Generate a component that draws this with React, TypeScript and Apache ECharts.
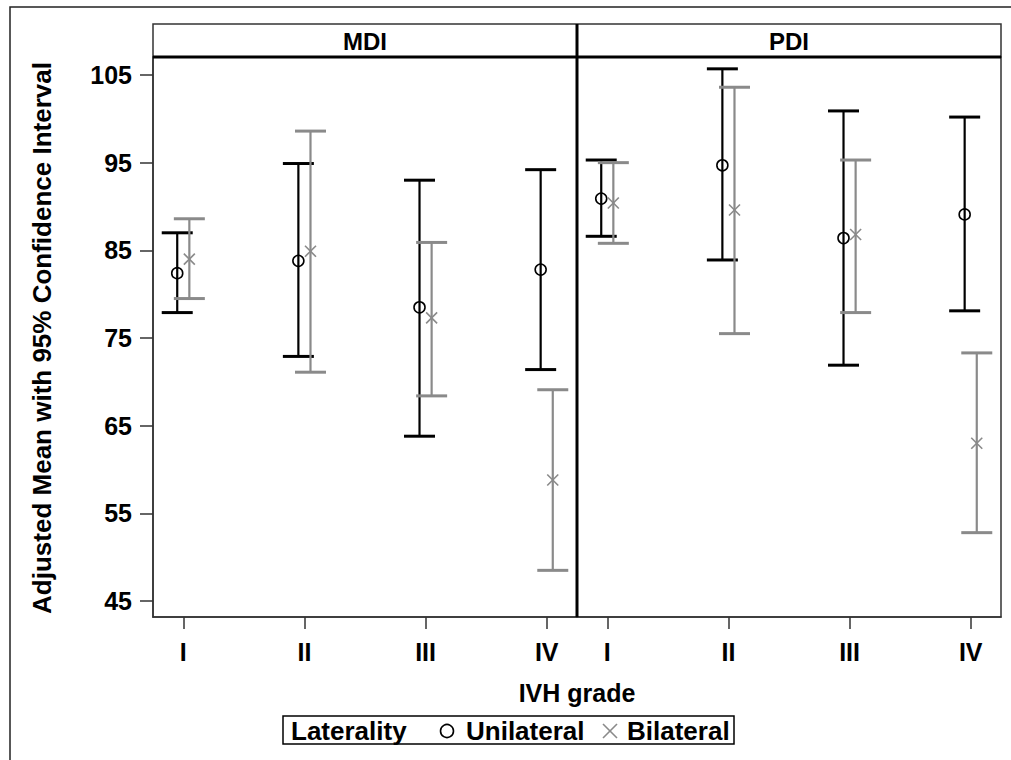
import React, { useEffect, useRef } from "react";
import * as echarts from "echarts";

const grades = ["I", "II", "III", "IV"];
const gradePos = [1, 2, 3, 4];
const yTicks = [45, 55, 65, 75, 85, 95, 105];
const panels = ["MDI", "PDI"];

const mdiUniMean = [82.4, 83.8, 78.5, 82.8];
const mdiUniLower = [77.9, 72.9, 63.8, 71.4];
const mdiUniUpper = [87.0, 94.9, 93.0, 94.2];
const mdiBiMean = [84.0, 84.9, 77.3, 58.8];
const mdiBiLower = [79.5, 71.1, 68.4, 48.5];
const mdiBiUpper = [88.6, 98.6, 85.9, 69.1];

const pdiUniMean = [90.9, 94.7, 86.4, 89.1];
const pdiUniLower = [86.6, 83.9, 71.9, 78.1];
const pdiUniUpper = [95.3, 105.7, 100.9, 100.2];
const pdiBiMean = [90.4, 89.6, 86.8, 63.0];
const pdiBiLower = [85.8, 75.5, 77.9, 52.8];
const pdiBiUpper = [95.0, 103.6, 95.3, 73.3];

const FONT = "'Liberation Sans', Arial, sans-serif";
const BLACK = "#000000";
const GRAY = "#8a8a8a";

function buildData(mean: number[], lower: number[], upper: number[]) {
  return gradePos.map((p, i) => [p, lower[i], upper[i], mean[i]]);
}

function makeSeries(
  gridIndex: number,
  data: number[][],
  color: string,
  offset: number,
  marker: "circle" | "x"
) {
  return {
    type: "custom",
    xAxisIndex: gridIndex,
    yAxisIndex: gridIndex,
    data,
    encode: { x: 0, y: [1, 2, 3] },
    clip: false,
    renderItem: (params: any, api: any) => {
      const x = api.value(0) + offset;
      const lo = api.coord([x, api.value(1)]);
      const hi = api.coord([x, api.value(2)]);
      const m = api.coord([x, api.value(3)]);
      const cap = 15.5;
      const children: any[] = [
        {
          type: "line",
          shape: { x1: lo[0], y1: lo[1], x2: hi[0], y2: hi[1] },
          style: { stroke: color, lineWidth: 2.2 },
        },
        {
          type: "line",
          shape: { x1: lo[0] - cap, y1: lo[1], x2: lo[0] + cap, y2: lo[1] },
          style: { stroke: color, lineWidth: 3 },
        },
        {
          type: "line",
          shape: { x1: hi[0] - cap, y1: hi[1], x2: hi[0] + cap, y2: hi[1] },
          style: { stroke: color, lineWidth: 3 },
        },
      ];
      if (marker === "circle") {
        children.push({
          type: "circle",
          shape: { cx: m[0], cy: m[1], r: 5.5 },
          style: { stroke: color, lineWidth: 1.6, fill: "none" },
        });
      } else {
        const h = 5.5;
        children.push(
          {
            type: "line",
            shape: { x1: m[0] - h, y1: m[1] - h, x2: m[0] + h, y2: m[1] + h },
            style: { stroke: color, lineWidth: 1.6 },
          },
          {
            type: "line",
            shape: { x1: m[0] - h, y1: m[1] + h, x2: m[0] + h, y2: m[1] - h },
            style: { stroke: color, lineWidth: 1.6 },
          }
        );
      }
      return { type: "group", children };
    },
  };
}

export default function App() {
  const ref = useRef<HTMLDivElement>(null);

  useEffect(() => {
    if (!ref.current) return;
    const chart = echarts.init(ref.current, undefined, { renderer: "svg" });

    const gridLeft = [153, 577];
    const gridTop = 57;
    const gridW = 424;
    const gridH = 560;
    const yMin = 43.18;
    const yMax = 107.05;

    const xAxis = [0, 1].map((i) => ({
      type: "value",
      gridIndex: i,
      min: 0.75,
      max: 4.25,
      axisLine: { show: true, lineStyle: { color: "#333", width: 1.5 } },
      axisTick: {
        show: true,
        inside: false,
        length: 12,
        customValues: gradePos,
        lineStyle: { color: "#333", width: 1.5 },
      },
      axisLabel: {
        show: true,
        customValues: gradePos,
        formatter: (v: number) => grades[Math.round(v) - 1] ?? "",
        margin: 22,
        fontFamily: FONT,
        fontWeight: "bold",
        fontSize: 25,
        color: "#000",
      },
      splitLine: { show: false },
    }));

    const yAxis = [0, 1].map((i) => ({
      type: "value",
      gridIndex: i,
      min: yMin,
      max: yMax,
      axisLine: { show: true, lineStyle: { color: "#333", width: 1.5 } },
      axisTick: {
        show: i === 0,
        length: 13,
        customValues: yTicks,
        lineStyle: { color: "#333", width: 1.5 },
      },
      axisLabel: {
        show: i === 0,
        customValues: yTicks,
        margin: 21,
        fontFamily: FONT,
        fontWeight: "bold",
        fontSize: 25,
        color: "#000",
      },
      splitLine: { show: false },
    }));

    const series = [
      makeSeries(0, buildData(mdiUniMean, mdiUniLower, mdiUniUpper), BLACK, -0.05, "circle"),
      makeSeries(0, buildData(mdiBiMean, mdiBiLower, mdiBiUpper), GRAY, 0.05, "x"),
      makeSeries(1, buildData(pdiUniMean, pdiUniLower, pdiUniUpper), BLACK, -0.05, "circle"),
      makeSeries(1, buildData(pdiBiMean, pdiBiLower, pdiBiUpper), GRAY, 0.05, "x"),
    ];

    const textStyle = (extra: any) => ({
      fontFamily: FONT,
      fontWeight: "bold",
      fontSize: 25,
      fill: "#000",
      ...extra,
    });

    const graphic: any[] = [
      {
        type: "rect",
        z: 100,
        shape: { x: 10, y: 7, width: 1030, height: 800 },
        style: { stroke: "#222", lineWidth: 1.5, fill: "none" },
      },
      {
        type: "rect",
        z: 100,
        shape: { x: 153, y: 24, width: 848, height: 33 },
        style: { stroke: "#333", lineWidth: 1.5, fill: "#fff" },
      },
      {
        type: "line",
        z: 101,
        shape: { x1: 153, y1: 57, x2: 1001, y2: 57 },
        style: { stroke: BLACK, lineWidth: 3 },
      },
      {
        type: "line",
        z: 101,
        shape: { x1: 577, y1: 24, x2: 577, y2: 617 },
        style: { stroke: BLACK, lineWidth: 3 },
      },
      ...panels.map((p, i) => ({
        type: "text",
        z: 102,
        x: gridLeft[i] + gridW / 2,
        y: 41,
        style: textStyle({ text: p, align: "center", verticalAlign: "middle", fontSize: 24 }),
      })),
      {
        type: "text",
        z: 102,
        x: 42,
        y: 338,
        rotation: Math.PI / 2,
        style: textStyle({
          text: "Adjusted Mean with 95% Confidence Interval",
          align: "center",
          verticalAlign: "middle",
          fontSize: 26,
        }),
      },
      {
        type: "text",
        z: 102,
        x: 577,
        y: 693,
        style: textStyle({ text: "IVH grade", align: "center", verticalAlign: "middle" }),
      },
      {
        type: "rect",
        z: 100,
        shape: { x: 283, y: 716, width: 451, height: 28 },
        style: { stroke: BLACK, lineWidth: 1.5, fill: "#fff" },
      },
      {
        type: "text",
        z: 102,
        x: 291,
        y: 731,
        style: textStyle({ text: "Laterality", align: "left", verticalAlign: "middle", fontSize: 26 }),
      },
      {
        type: "circle",
        z: 102,
        shape: { cx: 447, cy: 731, r: 6.5 },
        style: { stroke: BLACK, lineWidth: 1.6, fill: "none" },
      },
      {
        type: "text",
        z: 102,
        x: 466,
        y: 731,
        style: textStyle({ text: "Unilateral", align: "left", verticalAlign: "middle", fontSize: 26 }),
      },
      {
        type: "line",
        z: 102,
        shape: { x1: 603, y1: 724, x2: 617, y2: 738 },
        style: { stroke: GRAY, lineWidth: 1.6 },
      },
      {
        type: "line",
        z: 102,
        shape: { x1: 603, y1: 738, x2: 617, y2: 724 },
        style: { stroke: GRAY, lineWidth: 1.6 },
      },
      {
        type: "text",
        z: 102,
        x: 627,
        y: 731,
        style: textStyle({ text: "Bilateral", align: "left", verticalAlign: "middle", fontSize: 26 }),
      },
    ];

    chart.setOption({
      animation: false,
      backgroundColor: "#fff",
      grid: [0, 1].map((i) => ({
        left: gridLeft[i],
        top: gridTop,
        width: gridW,
        height: gridH,
        show: true,
        borderColor: "#333",
        borderWidth: 1.5,
        backgroundColor: "transparent",
      })),
      xAxis,
      yAxis,
      series,
      graphic,
    });

    return () => chart.dispose();
  }, []);

  return (
    <div
      ref={ref}
      style={{ position: "fixed", left: 0, top: 0, width: 1011, height: 760 }}
    />
  );
}
